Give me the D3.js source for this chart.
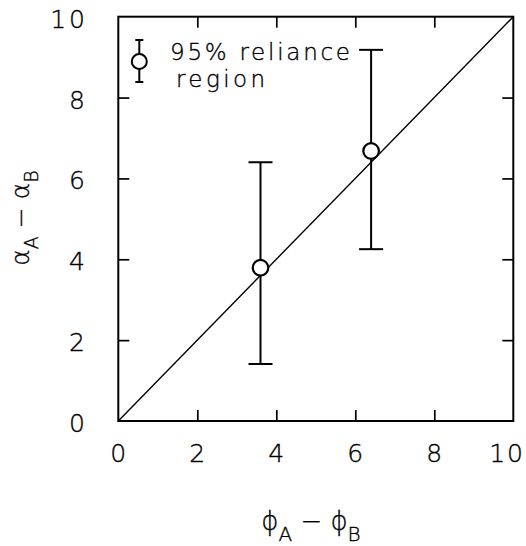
<!DOCTYPE html>
<html>
<head>
<meta charset="utf-8">
<script src="https://cdn.jsdelivr.net/npm/d3@7"></script>
<style>
  html, body { margin: 0; padding: 0; background: #fff; }
  svg text { font-family: "DejaVu Sans", sans-serif; font-stretch: condensed; font-weight: 300;
             fill: #000; stroke: #000; stroke-width: 0.35; }
</style>
</head>
<body>
<svg id="chart" width="526" height="546"></svg>
<script>
// Measured differences with their 95% reliance intervals
const phiDiff = [3.6, 6.4];
const alphaDiff = [3.79, 6.68];
const lower = [1.41, 4.25];
const upper = [6.40, 9.18];
const tickValues = [0, 2, 4, 6, 8, 10];
const legendLines = ["95% reliance", "region"];

(function draw() {
  const svg = d3.select("#chart");
  const mLeft = 118.3, mRight = 513.3, mTop = 16.7, mBottom = 421;

  const x = d3.scaleLinear().domain([0, 10]).range([mLeft, mRight]);
  const y = d3.scaleLinear().domain([0, 10]).range([mBottom, mTop]);

  const tickLen = 11;

  // Axes with inward ticks on all four sides
  const axes = [
    { axis: d3.axisBottom(x), tf: `translate(0,${mBottom})` },
    { axis: d3.axisTop(x), tf: `translate(0,${mTop})` },
    { axis: d3.axisLeft(y), tf: `translate(${mLeft},0)` },
    { axis: d3.axisRight(y), tf: `translate(${mRight},0)` }
  ];
  axes.forEach(a => {
    const g = svg.append("g").attr("transform", a.tf)
      .call(a.axis.tickValues(tickValues.slice(1, -1)).tickSizeInner(-tickLen).tickSizeOuter(0).tickFormat(""));
    g.select(".domain").remove();
    g.selectAll(".tick line").attr("stroke", "#000").attr("stroke-width", 1.7);
  });

  // tick labels (the last x label is kept inside the page edge)
  const last = tickValues[tickValues.length - 1];
  svg.append("g").selectAll("text").data(tickValues).join("text")
    .attr("x", d => d === last ? 525 : x(d) + 1.5).attr("y", 462)
    .attr("text-anchor", d => d === last ? "end" : "middle").attr("font-size", 25)
    .attr("letter-spacing", d => d === last ? 2 : 3)
    .text(d => d);
  svg.append("g").selectAll("text").data(tickValues).join("text")
    .attr("x", 88).attr("y", d => y(d) + 11)
    .attr("text-anchor", "end").attr("font-size", 25)
    .attr("letter-spacing", 3)
    .text(d => d);

  // frame
  svg.append("rect").attr("x", mLeft).attr("y", mTop)
    .attr("width", mRight - mLeft).attr("height", mBottom - mTop)
    .attr("fill", "none").attr("stroke", "#000").attr("stroke-width", 2);

  // line of equality
  svg.append("line")
    .attr("x1", x(0)).attr("y1", y(0)).attr("x2", x(10)).attr("y2", y(10))
    .attr("stroke", "#000").attr("stroke-width", 1.4);

  // error bars
  const capHalf = 12;
  const eb = svg.append("g").attr("stroke", "#000").attr("stroke-width", 2);
  phiDiff.forEach((p, i) => {
    eb.append("line").attr("x1", x(p)).attr("x2", x(p)).attr("y1", y(lower[i])).attr("y2", y(upper[i]));
    eb.append("line").attr("x1", x(p) - capHalf).attr("x2", x(p) + capHalf).attr("y1", y(upper[i])).attr("y2", y(upper[i]));
    eb.append("line").attr("x1", x(p) - capHalf).attr("x2", x(p) + capHalf).attr("y1", y(lower[i])).attr("y2", y(lower[i]));
  });

  // data points
  svg.append("g").selectAll("circle").data(phiDiff).join("circle")
    .attr("cx", d => x(d)).attr("cy", (d, i) => y(alphaDiff[i]))
    .attr("r", 7.8).attr("fill", "#fff").attr("stroke", "#000").attr("stroke-width", 2.2);

  // legend
  const lg = svg.append("g").attr("stroke", "#000").attr("stroke-width", 2);
  const lx = 139.3, lTop = 40, lBot = 82, lMid = 61.5;
  lg.append("line").attr("x1", lx).attr("x2", lx).attr("y1", lTop).attr("y2", lBot);
  lg.append("line").attr("x1", lx - 4).attr("x2", lx + 4).attr("y1", lTop).attr("y2", lTop);
  lg.append("line").attr("x1", lx - 4).attr("x2", lx + 4).attr("y1", lBot).attr("y2", lBot);
  lg.append("circle").attr("cx", lx).attr("cy", lMid).attr("r", 7.5).attr("fill", "#fff");

  svg.append("text").attr("x", 170).attr("y", 59.5).attr("font-size", 23)
    .attr("textLength", 180).attr("lengthAdjust", "spacing").text(legendLines[0]);
  svg.append("text").attr("x", 176).attr("y", 87).attr("font-size", 23)
    .attr("textLength", 89).attr("lengthAdjust", "spacing").text(legendLines[1]);

  // axis titles
  const xt = svg.append("text").attr("x", 311).attr("y", 530)
    .attr("text-anchor", "middle").attr("font-size", 26);
  xt.append("tspan").text("ϕ");
  xt.append("tspan").attr("font-size", 20).attr("dy", 11).text("A");
  xt.append("tspan").attr("dy", -11).text(" − ϕ");
  xt.append("tspan").attr("font-size", 20).attr("dy", 11).text("B");

  const yt = svg.append("text").attr("transform", "translate(29,218) rotate(-90)")
    .attr("text-anchor", "middle").attr("font-size", 25);
  yt.append("tspan").text("α");
  yt.append("tspan").attr("font-size", 19).attr("dy", 9).text("A");
  yt.append("tspan").attr("dy", -9).text(" − α");
  yt.append("tspan").attr("font-size", 19).attr("dy", 9).text("B");
})();
</script>
</body>
</html>
